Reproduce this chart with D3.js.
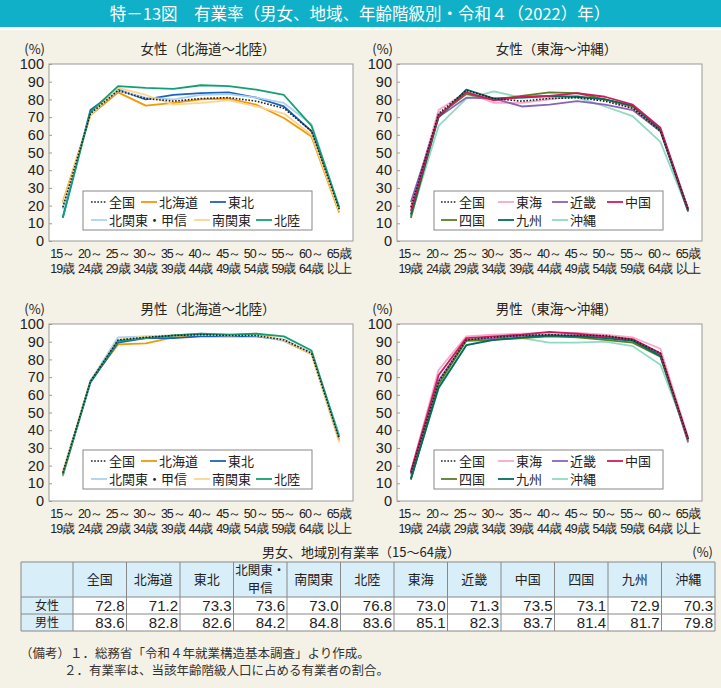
<!DOCTYPE html>
<html>
<head>
<meta charset="utf-8">
<script src="https://cdn.jsdelivr.net/npm/d3@7"></script>
<style>
  html, body { margin: 0; padding: 0; background: #f4f1e6; }
  svg { display: block; font-family: "Noto Sans CJK JP", "Noto Sans", sans-serif; }
</style>
</head>
<body>
<svg id="chart" width="721" height="688"></svg>
<script>
// age groups (x axis)
const ageGroups = ["15～19歳", "20～24歳", "25～29歳", "30～34歳", "35～39歳", "40～44歳",
  "45～49歳", "50～54歳", "55～59歳", "60～64歳", "65歳以上"];

// women, by region
const femaleZenkoku   = [19, 72, 85, 80.5, 79, 80.5, 81, 79, 75, 62, 18];
const femaleHokkaido  = [22, 71, 84, 76.5, 78, 80, 80.5, 77, 69.5, 59, 16];
const femaleTohoku    = [13.5, 74, 85.5, 80, 82.5, 83.5, 84, 81, 76, 62, 18];
const femaleKitakanto = [18, 72, 85, 81, 80, 82.5, 83, 81, 78, 66, 19];
const femaleMinami    = [21, 71, 86.5, 82.5, 77, 78, 79.5, 76, 72, 60, 17];
const femaleHokuriku  = [13, 73, 87.5, 86.5, 86, 88, 87.5, 85.5, 82.5, 65, 19];
const femaleTokai     = [19, 74, 84, 78, 78, 80, 82, 80, 75, 62, 18];
const femaleKinki     = [22, 70, 81, 80.5, 76, 77, 79, 77, 74, 62, 16.5];
const femaleChugoku   = [17, 71, 84, 79.5, 81.5, 82, 83.5, 81.5, 77, 64, 18];
const femaleShikoku   = [13, 71, 83, 80, 82, 84, 83.5, 80, 76, 63, 17];
const femaleKyushu    = [15, 70, 85.5, 80.5, 81, 82, 81.5, 80, 76.5, 63, 17];
const femaleOkinawa   = [14, 65, 80.5, 84.5, 81, 81, 81, 76, 70.5, 56, 17];

// men, by region
const maleZenkoku   = [16, 67.5, 91, 92.5, 93.5, 94, 93.5, 93.5, 91, 83.5, 35];
const maleHokkaido  = [14, 68, 88.5, 89, 92.5, 93.5, 93.5, 94.5, 90.5, 83, 34];
const maleTohoku    = [15, 67, 89.5, 92, 92, 93, 93, 93, 91, 83.5, 37];
const maleKitakanto = [15, 68, 92.5, 93, 93.5, 94.5, 94, 93.5, 90.5, 84, 37];
const maleMinami    = [17, 68, 91, 93, 93.5, 94, 93.5, 94, 91, 83, 33];
const maleHokuriku  = [15, 67.5, 90.5, 92, 93.5, 94.5, 94, 94.5, 93, 85, 36];
const maleTokai     = [17, 74, 93, 94, 94.5, 95, 95, 94, 92.5, 86, 36];
const maleKinki     = [15, 68, 91, 92, 93.5, 93.5, 93.5, 92.5, 91, 83, 33];
const maleChugoku   = [16.5, 71, 92, 93, 94, 95.5, 94.5, 93, 91.5, 83.5, 35];
const maleShikoku   = [12, 66, 90.5, 91, 92, 93, 92.5, 91, 89.5, 81.5, 34];
const maleKyushu    = [12.5, 64, 88, 91, 92.5, 93.5, 93, 92, 90.5, 82, 35];
const maleOkinawa   = [13, 63.5, 88, 91.5, 92, 89.5, 89.5, 90, 87.5, 77, 36];

// table: 15-64 rates
const tableRegions = ["全国", "北海道", "東北", "北関東・甲信", "南関東", "北陸",
  "東海", "近畿", "中国", "四国", "九州", "沖縄"];
const femaleRate = [72.8, 71.2, 73.3, 73.6, 73.0, 76.8, 73.0, 71.3, 73.5, 73.1, 72.9, 70.3];
const maleRate   = [83.6, 82.8, 82.6, 84.2, 84.8, 83.6, 85.1, 82.3, 83.7, 81.4, 81.7, 79.8];

const colors = {
  "全国": "#222", "北海道": "#f39800", "東北": "#1d62b8", "北関東・甲信": "#a9d3f2",
  "南関東": "#fad592", "北陸": "#12a072", "東海": "#f7a8cb", "近畿": "#8a63b8",
  "中国": "#d11a5c", "四国": "#5b7d2a", "九州": "#016b5e", "沖縄": "#8fdac3"
};

const svg = d3.select("#chart");

// title bar
svg.append("rect").attr("x", 0).attr("y", 0).attr("width", 721).attr("height", 27).attr("fill", "#10b0c8");
svg.append("rect").attr("x", 0).attr("y", 27).attr("width", 721).attr("height", 3).attr("fill", "#fff");
svg.append("text").attr("x", 360).attr("y", 20).attr("text-anchor", "middle")
  .attr("fill", "#fff").attr("font-size", 16.5)
  .text("特－13図　有業率（男女、地域、年齢階級別・令和４（2022）年）");

const panels = [
  { title: "女性（北海道～北陸）", x0: 49, x1: 353, y0: 64, y1: 241,
    series: [["北海道", femaleHokkaido], ["東北", femaleTohoku], ["北関東・甲信", femaleKitakanto],
             ["南関東", femaleMinami], ["北陸", femaleHokuriku], ["全国", femaleZenkoku]],
    legend: [[91, 0, "全国"], [141, 0, "北海道"], [210, 0, "東北"],
             [91, 1, "北関東・甲信"], [194, 1, "南関東"], [256, 1, "北陸"]],
    box: [83, 191, 229, 39] },
  { title: "女性（東海～沖縄）", x0: 397, x1: 702, y0: 64, y1: 241,
    series: [["沖縄", femaleOkinawa], ["東海", femaleTokai], ["近畿", femaleKinki], ["四国", femaleShikoku],
             ["九州", femaleKyushu], ["中国", femaleChugoku], ["全国", femaleZenkoku]],
    legend: [[441, 0, "全国"], [498, 0, "東海"], [552, 0, "近畿"], [607, 0, "中国"],
             [441, 1, "四国"], [498, 1, "九州"], [552, 1, "沖縄"]],
    box: [434, 191, 229, 39] },
  { title: "男性（北海道～北陸）", x0: 49, x1: 353, y0: 324, y1: 501,
    series: [["北海道", maleHokkaido], ["東北", maleTohoku], ["北関東・甲信", maleKitakanto],
             ["南関東", maleMinami], ["北陸", maleHokuriku], ["全国", maleZenkoku]],
    legend: [[91, 0, "全国"], [141, 0, "北海道"], [210, 0, "東北"],
             [91, 1, "北関東・甲信"], [194, 1, "南関東"], [256, 1, "北陸"]],
    box: [83, 450, 229, 39] },
  { title: "男性（東海～沖縄）", x0: 397, x1: 702, y0: 324, y1: 501,
    series: [["沖縄", maleOkinawa], ["東海", maleTokai], ["近畿", maleKinki], ["四国", maleShikoku],
             ["九州", maleKyushu], ["中国", maleChugoku], ["全国", maleZenkoku]],
    legend: [[441, 0, "全国"], [498, 0, "東海"], [552, 0, "近畿"], [607, 0, "中国"],
             [441, 1, "四国"], [498, 1, "九州"], [552, 1, "沖縄"]],
    box: [434, 450, 229, 39] }
];

function splitAge(s) {
  if (s.includes("～")) { const i = s.indexOf("～") + 1; return [s.slice(0, i), s.slice(i)]; }
  return [s.slice(0, 3), s.slice(3)];
}

panels.forEach(p => {
  const x = d3.scalePoint().domain(ageGroups).range([p.x0, p.x1]).padding(0.5);
  const y = d3.scaleLinear().domain([0, 100]).range([p.y1, p.y0]);
  const g = svg.append("g");

  // plot background + frame
  g.append("rect").attr("x", p.x0).attr("y", p.y0).attr("width", p.x1 - p.x0).attr("height", p.y1 - p.y0)
    .attr("fill", "#fff").attr("stroke", "#999").attr("stroke-width", 1);

  // y axis
  const ya = g.append("g").attr("transform", `translate(${p.x0},0)`)
    .call(d3.axisLeft(y).tickValues(d3.range(0, 101, 10)).tickSize(-3).tickPadding(5));
  ya.select(".domain").remove();
  ya.selectAll("line").attr("stroke", "#999");
  ya.selectAll("text").attr("font-size", 14.5).attr("fill", "#222")
    .attr("font-family", "'Liberation Sans', Arial, sans-serif");

  // x axis, two-line labels
  const xa = g.append("g").attr("transform", `translate(0,${p.y1})`)
    .call(d3.axisBottom(x).tickSize(0));
  xa.select(".domain").remove();
  xa.selectAll("text").attr("font-size", 12.5).attr("fill", "#222").attr("dy", null).attr("y", 16.5)
    .attr("letter-spacing", -1)
    .each(function(d) {
      const parts = splitAge(d);
      const t = d3.select(this).text(null);
      t.append("tspan").attr("x", -1).text(parts[0]);
      t.append("tspan").attr("x", -1).attr("dy", 15.5).text(parts[1]);
    });

  // titles
  g.append("text").attr("x", (p.x0 + p.x1) / 2 + 7).attr("y", p.y0 - 10).attr("text-anchor", "middle")
    .attr("font-size", 13.5).attr("fill", "#222").text(p.title);
  g.append("text").attr("x", p.x0 - 4).attr("y", p.y0 - 10).attr("text-anchor", "end")
    .attr("font-size", 13).attr("fill", "#222").text("(%)");

  // lines
  const line = d3.line().x((d, i) => x(ageGroups[i])).y(d => y(d));
  p.series.forEach(([name, vals]) => {
    g.append("path").datum(vals).attr("d", line).attr("fill", "none")
      .attr("stroke", colors[name]).attr("stroke-width", name === "全国" ? 1.6 : 1.8)
      .attr("stroke-dasharray", name === "全国" ? "1.6,1.6" : null)
      .attr("stroke-linejoin", "round");
  });

  // legend
  const [bx, by, bw, bh] = p.box;
  g.append("rect").attr("x", bx).attr("y", by).attr("width", bw).attr("height", bh)
    .attr("fill", "#fff").attr("stroke", "#888").attr("stroke-width", 1);
  p.legend.forEach(([lx, row, name]) => {
    const ly = by + 11 + row * 18;
    g.append("line").attr("x1", lx).attr("x2", lx + 16).attr("y1", ly).attr("y2", ly)
      .attr("stroke", colors[name]).attr("stroke-width", name === "全国" ? 1.6 : 1.8)
      .attr("stroke-dasharray", name === "全国" ? "1.6,1.6" : null);
    g.append("text").attr("x", lx + 18).attr("y", ly + 4.8).attr("font-size", 13).attr("fill", "#222").text(name);
  });
});

// table
const tx0 = 21, tLabelW = 52, tx1 = 715;
const colX = d3.scaleBand().domain(tableRegions).range([tx0 + tLabelW, tx1]);
const rowsY = [562, 597, 614, 631];
const tg = svg.append("g");

tg.append("text").attr("x", 361).attr("y", 557).attr("text-anchor", "middle")
  .attr("font-size", 13).attr("fill", "#222").text("男女、地域別有業率（15～64歳）");
tg.append("text").attr("x", 713).attr("y", 557).attr("text-anchor", "end")
  .attr("font-size", 13).attr("fill", "#222").text("(%)");

// header row and label column backgrounds
tg.append("rect").attr("x", tx0).attr("y", rowsY[0]).attr("width", tx1 - tx0).attr("height", rowsY[1] - rowsY[0])
  .attr("fill", "#d8eef9");
tg.append("rect").attr("x", tx0).attr("y", rowsY[1]).attr("width", tLabelW).attr("height", rowsY[3] - rowsY[1])
  .attr("fill", "#d8eef9");
tg.append("rect").attr("x", tx0 + tLabelW).attr("y", rowsY[1]).attr("width", tx1 - tx0 - tLabelW).attr("height", rowsY[3] - rowsY[1])
  .attr("fill", "#fff");

// grid lines
rowsY.forEach(yy => tg.append("line").attr("x1", tx0).attr("x2", tx1).attr("y1", yy).attr("y2", yy)
  .attr("stroke", "#888").attr("stroke-width", 1));
[tx0, ...tableRegions.map(r => colX(r)), tx1].forEach(xx => tg.append("line")
  .attr("x1", xx).attr("x2", xx).attr("y1", rowsY[0]).attr("y2", rowsY[3]).attr("stroke", "#888").attr("stroke-width", 1));

// headers
tableRegions.forEach(r => {
  const cx = colX(r) + colX.bandwidth() / 2;
  if (r === "北関東・甲信") {
    tg.append("text").attr("x", cx).attr("y", 575).attr("text-anchor", "middle").attr("font-size", 12.5).attr("fill", "#222").text("北関東・");
    tg.append("text").attr("x", cx).attr("y", 593).attr("text-anchor", "middle").attr("font-size", 12.5).attr("fill", "#222").text("甲信");
  } else {
    tg.append("text").attr("x", cx).attr("y", 584).attr("text-anchor", "middle").attr("font-size", 13).attr("fill", "#222").text(r);
  }
});

// data rows
[["女性", femaleRate], ["男性", maleRate]].forEach(([lab, vals], ri) => {
  const base = rowsY[ri + 1] + 13;
  tg.append("text").attr("x", tx0 + tLabelW / 2).attr("y", base - 0.5).attr("text-anchor", "middle")
    .attr("font-size", 12).attr("fill", "#222").text(lab);
  vals.forEach((v, i) => {
    tg.append("text").attr("x", colX(tableRegions[i]) + colX.bandwidth() - 2).attr("y", base + 1)
      .attr("text-anchor", "end").attr("font-size", 15).attr("fill", "#222")
      .attr("font-family", "'Liberation Sans', Arial, sans-serif").text(v.toFixed(1));
  });
});

// notes
svg.append("text").attr("x", 20).attr("y", 658).attr("font-size", 12.5).attr("fill", "#333")
  .text("（備考）１．総務省「令和４年就業構造基本調査」より作成。");
svg.append("text").attr("x", 64).attr("y", 675).attr("font-size", 12.5).attr("fill", "#333")
  .text("２．有業率は、当該年齢階級人口に占める有業者の割合。");
</script>
</body>
</html>
